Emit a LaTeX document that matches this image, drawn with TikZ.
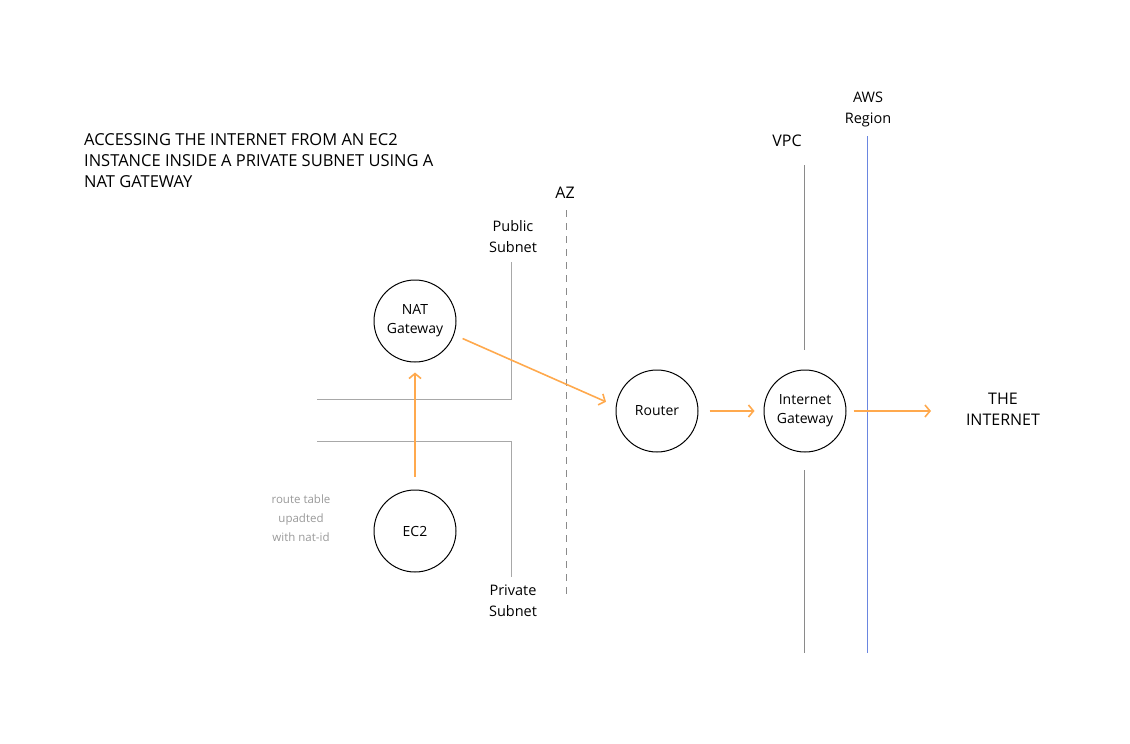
\documentclass[tikz,border=0pt]{standalone}
\usepackage{fontspec}
\setmainfont{Open Sans}
\usetikzlibrary{arrows.meta}
\definecolor{orng}{HTML}{FFA94D}
\definecolor{lgray}{HTML}{A8A8A8}
\definecolor{dgray}{HTML}{8A8A8A}
\definecolor{rblue}{HTML}{6A86E0}
\definecolor{tgray}{HTML}{999999}
\tikzset{
  svc/.style={circle, draw=black, line width=1pt, minimum size=82pt, inner sep=0pt, align=center, font=\fontsize{14}{19}\selectfont},
  lbl/.style={align=center, font=\fontsize{14.5}{21}\selectfont, inner sep=0pt},
  caps/.style={align=center, font=\fontsize{16}{21}\selectfont, inner sep=0pt},
  note/.style={align=center, font=\fontsize{11.5}{19}\selectfont, text=tgray, inner sep=0pt},
  flow/.style={draw=orng, line width=1.6pt, -{Straight Barb[length=5pt,width=12pt,line width=1.6pt]}},
  bound/.style={draw=lgray, line width=0.9pt},
}
\begin{document}
\begin{tikzpicture}[x=1pt,y=-1pt]
\useasboundingbox (0,0) rectangle (1130,744);
% title
\node[anchor=west, align=left, font=\fontsize{16.5}{21}\selectfont, inner sep=0pt] (title) at (84,161)
  {ACCESSING THE INTERNET FROM AN EC2\\INSTANCE INSIDE A PRIVATE SUBNET USING A\\NAT GATEWAY};
% labels
\node[caps] (azl) at (565,193) {AZ};
\node[lbl] (publ) at (513,236.5) {Public\\Subnet};
\node[lbl] (privl) at (513,600.5) {Private\\Subnet};
\node[caps] (vpcl) at (787,141) {VPC};
\node[lbl] (awsl) at (868,109.5) {AWS\\Region};
\node[caps] (inet) at (1003,409.5) {THE\\INTERNET};
\node[note] (rt) at (301,518) {route table\\upadted\\with nat-id};
% boundary coordinates
\coordinate (pubT) at (511,262);
\coordinate (pubC) at (511,399);
\coordinate (pubL) at (317,399);
\coordinate (priT) at (511,441);
\coordinate (priB) at (511,577);
\coordinate (priL) at (317,441);
\coordinate (azT) at (566,210);
\coordinate (azB) at (566,595);
\coordinate (vpcT) at (804,165);
\coordinate (vpcM1) at (804,350);
\coordinate (vpcM2) at (804,470);
\coordinate (vpcB) at (804,653);
\coordinate (awsT) at (867,136);
\coordinate (awsB) at (867,653);
\draw[bound] (pubT) -- (pubC) -- (pubL);
\draw[bound] (priL) -- (priT) -- (priB);
\draw[draw=dgray, line width=0.9pt, dash pattern=on 6.5pt off 6.5pt] (azT) -- (azB);
\draw[draw=dgray, line width=0.9pt] (vpcT) -- (vpcM1);
\draw[draw=dgray, line width=0.9pt] (vpcM2) -- (vpcB);
\draw[draw=rblue, line width=0.8pt] (awsT) -- (awsB);
% services
\node[svc] (nat) at (415,321) {NAT\\Gateway};
\node[svc] (ec2) at (415,531) {EC2};
\node[svc] (router) at (657,411) {Router};
\node[svc] (igw) at (805,411) {Internet\\Gateway};
\coordinate (inetE) at (931,411);
% flows
\draw[flow] ([yshift=13pt]ec2.north) -- ([yshift=-10pt]nat.south);
\draw[flow] ([shift={(10pt,0pt)}]nat.-25) -- ([shift={(-12pt,-5pt)}]router.160);
\draw[flow] ([xshift=11pt]router.east) -- ([xshift=-9pt]igw.west);
\draw[flow] ([xshift=7pt]igw.east) -- (inetE);
\end{tikzpicture}
\end{document}
